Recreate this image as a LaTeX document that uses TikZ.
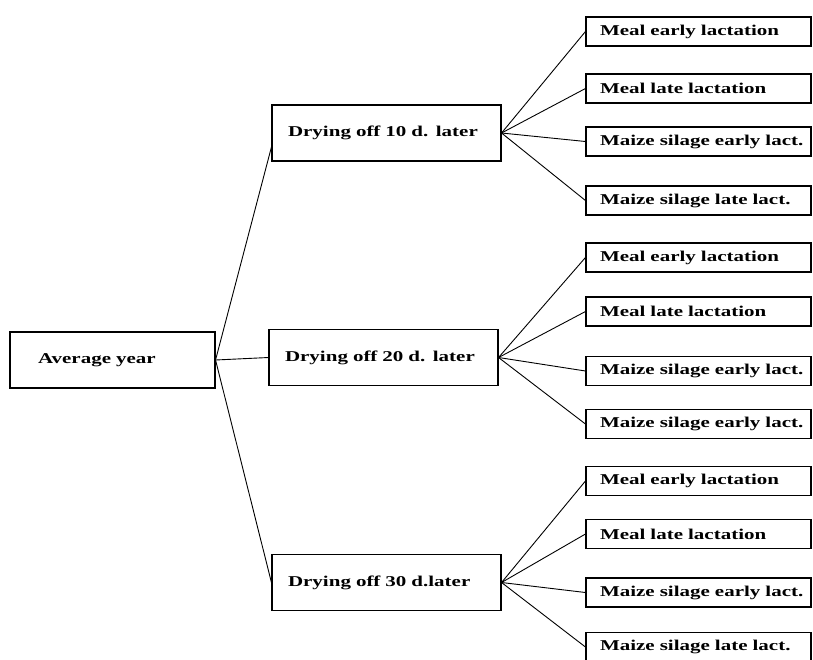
\documentclass[tikz,border=0pt]{standalone}
\usepackage{fontspec}
\setmainfont{Liberation Serif}[FakeStretch=1.4]
\begin{document}
\begin{tikzpicture}[x=1pt,y=-1pt,
  lbl/.style={font=\bfseries\fontsize{15}{17}\selectfont},
  box/.style={draw, line width=1.1pt, rectangle, inner ysep=0pt, align=left, lbl},
  leaf/.style={box, minimum height=29pt, inner xsep=14pt, text width=197pt},
  mid/.style={box, minimum height=56pt, inner xsep=16pt, text width=197pt},
  root/.style={box, minimum height=56pt, inner xsep=28pt, text width=149pt},
  conn/.style={line width=0.9pt}]
\useasboundingbox (0,0) rectangle (813,659);
% root
\node[root] (avg) at (112.5,360) {\mbox{Average year}};
% middle
\node[mid] (d10) at (386.5,133) {\mbox{Drying off 10 d. later}};
\node[mid] (d20) at (383.5,357.5) {\mbox{Drying off 20 d. later}};
\node[mid] (d30) at (386.5,582.5) {\mbox{Drying off 30 d.later}};
% leaves group 1
\node[leaf] (a1) at (698.5,31.5) {\mbox{Meal early lactation}};
\node[leaf] (a2) at (698.5,88.5) {\mbox{Meal late lactation}};
\node[leaf] (a3) at (698.5,141.5) {\mbox{Maize silage early lact.}};
\node[leaf] (a4) at (698.5,200.5) {\mbox{Maize silage late lact.}};
% leaves group 2
\node[leaf] (b1) at (698.5,257.5) {\mbox{Meal early lactation}};
\node[leaf] (b2) at (698.5,311.5) {\mbox{Meal late lactation}};
\node[leaf] (b3) at (698.5,371) {\mbox{Maize silage early lact.}};
\node[leaf] (b4) at (698.5,424) {\mbox{Maize silage early lact.}};
% leaves group 3
\node[leaf] (c1) at (698.5,481) {\mbox{Meal early lactation}};
\node[leaf] (c2) at (698.5,534) {\mbox{Meal late lactation}};
\node[leaf] (c3) at (698.5,592.5) {\mbox{Maize silage early lact.}};
\node[leaf] (c4) at (698.5,647) {\mbox{Maize silage late lact.}};
% connectors
\draw[conn] (avg.east) -- ([yshift=-14pt]d10.west);
\draw[conn] (avg.east) -- (d20.west);
\draw[conn] (avg.east) -- (d30.west);
\foreach \m/\g in {d10/a, d20/b, d30/c}{
  \foreach \i in {1,2,3,4}{
    \draw[conn] (\m.east) -- (\g\i.west);
  }
}
\end{tikzpicture}
\end{document}
